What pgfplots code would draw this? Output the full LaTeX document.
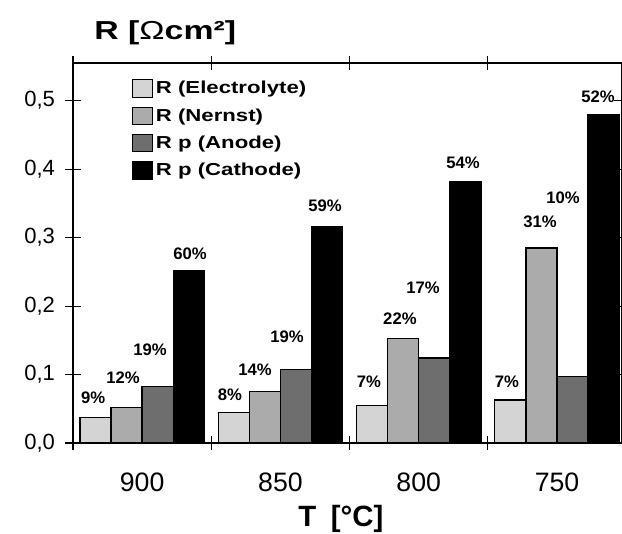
\documentclass[border=0pt]{standalone}
\usepackage{pgfplots}
\pgfplotsset{compat=1.18}
\usepackage{graphicx}
\usepackage{fontspec}
\setmainfont{Liberation Sans}
\definecolor{cEl}{HTML}{D4D4D4}
\definecolor{cNe}{HTML}{ABABAB}
\definecolor{cAn}{HTML}{6E6E6E}
\begin{document}
\begin{tikzpicture}
\useasboundingbox (-54.75pt,-67.5pt) rectangle (411.75pt,332.25pt);
\begin{axis}[
  at={(0pt,0pt)}, anchor=south west,
  scale only axis, width=411.75pt, height=285pt,
  xmin=-0.5, xmax=3.47, ymin=0, ymax=0.555,
  xtick={0,1,2,3}, xticklabels={900,850,800,750},
  major x tick style={draw=none},
  minor xtick={-0.5,0.5,1.5,2.5},
  minor tick length=10pt,
  ytick={0,0.1,0.2,0.3,0.4,0.5},
  major tick length=12pt,
  tick align=center,
  tick style={black, line width=0.8pt},
  axis line style={line width=1.3pt},
  xticklabel style={font=\fontsize{20}{22}\selectfont, yshift=-13pt},
  yticklabel style={font=\fontsize{16.5}{18}\selectfont, xshift=-4pt,
    /pgf/number format/.cd, fixed, fixed zerofill, precision=1, use comma, assume math mode=true},
  xlabel={T\hspace{0.5em}[°C]},
  xlabel style={at={(axis description cs:0.488,-0.2)}, anchor=center, font=\fontsize{22}{24}\selectfont\bfseries},
  ylabel={\scalebox{1.3}[1]{R [{\mdseries Ω}cm²]}},
  ylabel style={rotate=-90, at={(axis description cs:0.168,1.079)}, anchor=center, font=\fontsize{19.5}{21}\selectfont\bfseries},
  legend style={at={(axis description cs:0.1,0.967)}, anchor=north west, draw=none, fill=none,
    font=\fontsize{13}{15}\selectfont\bfseries, row sep=5.6pt},
  legend cell align=left,
  legend image code/.code={\draw[#1, line width=0.8pt] (0pt,-6.5pt) rectangle (15pt,6.5pt);},
]
\addplot[ybar, bar width=0.225, bar shift=-0.3375, fill=cEl, draw=black, line width=1pt]
  coordinates {(0,0.037) (1,0.045) (2,0.055) (3,0.063)};
\addlegendentry{\scalebox{1.28}[1]{R (Electrolyte)}}
\addplot[ybar, bar width=0.225, bar shift=-0.1125, fill=cNe, draw=black, line width=1pt]
  coordinates {(0,0.052) (1,0.075) (2,0.153) (3,0.285)};
\addlegendentry{\scalebox{1.28}[1]{R (Nernst)}}
\addplot[ybar, bar width=0.225, bar shift=0.1125, fill=cAn, draw=black, line width=1pt]
  coordinates {(0,0.083) (1,0.107) (2,0.124) (3,0.097)};
\addlegendentry{\scalebox{1.28}[1]{R p (Anode)}}
\addplot[ybar, bar width=0.225, bar shift=0.3375, fill=black, draw=black, line width=1pt]
  coordinates {(0,0.252) (1,0.316) (2,0.381) (3,0.480)};
\addlegendentry{\scalebox{1.28}[1]{R p (Cathode)}}
\addplot[only marks, mark=none, forget plot, nodes near coords, point meta=explicit symbolic,
  nodes near coords style={anchor=center, inner sep=0pt, font=\fontsize{12.5}{14}\selectfont\bfseries}]
  table[meta=lab] {
x y lab
-0.355 0.066 9\%
-0.138 0.096 12\%
0.057 0.136 19\%
0.346 0.277 60\%
0.635 0.070 8\%
0.816 0.107 14\%
1.047 0.155 19\%
1.322 0.347 59\%
1.640 0.089 7\%
1.864 0.182 22\%
2.031 0.226 17\%
2.320 0.409 54\%
2.638 0.089 7\%
2.877 0.323 31\%
3.043 0.358 10\%
3.296 0.505 52\%
};
\end{axis}
\end{tikzpicture}
\end{document}
